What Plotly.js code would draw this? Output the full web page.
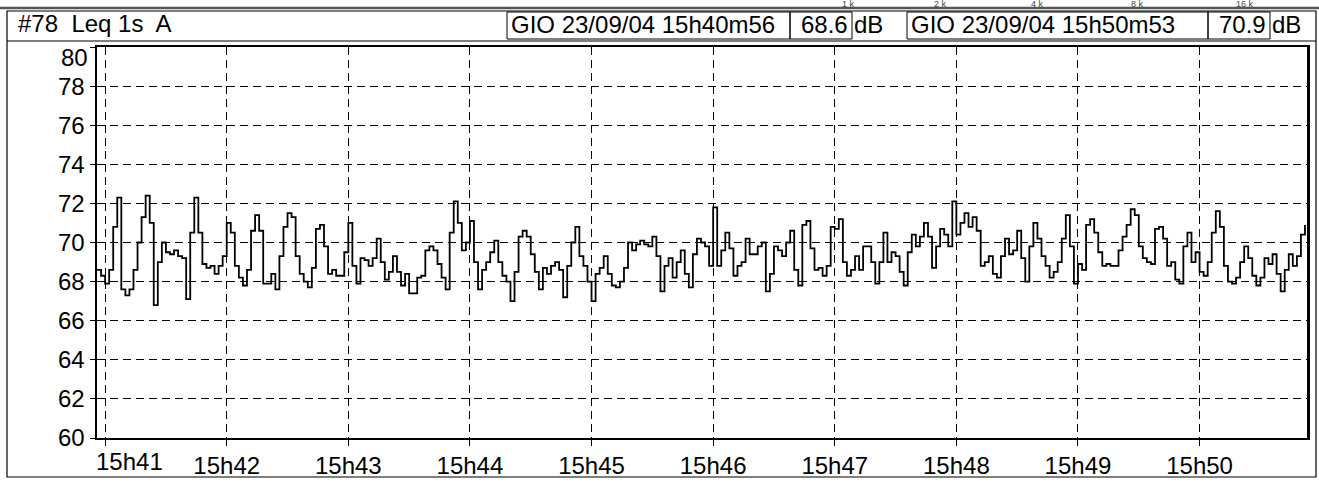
<!DOCTYPE html>
<html>
<head>
<meta charset="utf-8">
<script src="https://cdn.plot.ly/plotly-3.0.1.min.js"></script>
<style>
html,body{margin:0;padding:0;background:#fff;}
#chart{width:1319px;height:496px;}
</style>
</head>
<body>
<div id="chart"></div>
<script>
// ---- data ----
const headerLabel = "#78  Leq 1s  A";
const cursorStartText = "GIO 23/09/04 15h40m56";
const cursorStartValue = "68.6";
const cursorEndText = "GIO 23/09/04 15h50m53";
const cursorEndValue = "70.9";
const bandLabels = ["1 k", "2 k", "4 k", "8 k", "16 k"];
const stepSeconds = 2;          // one reading every 2 s, starting at 15h40m56
const totalSeconds = 597;       // 15h40m56 -> 15h50m53
const tickSeconds = [4, 64, 124, 184, 244, 304, 364, 424, 484, 544];
const tickLabels = ["15h41", "15h42", "15h43", "15h44", "15h45", "15h46", "15h47", "15h48", "15h49", "15h50"];
const yTicks = [60, 62, 64, 66, 68, 70, 72, 74, 76, 78, 80];
const levels = [
 68.6, 68.3, 67.9, 68.6, 70.8, 72.3, 67.6, 67.3, 67.6, 68.6, 70.0, 71.3, 72.4, 71.0, 66.8, 69.0, 70.0, 69.5, 69.4, 69.6, 69.3, 69.2, 67.1, 70.5, 72.3, 70.5, 68.9, 68.7,
 68.8, 68.4, 68.8, 69.3, 71.0, 70.5, 68.8, 68.2, 67.8, 68.6, 70.6, 71.4, 70.6, 67.9, 67.9, 68.4, 67.6, 69.3, 70.8, 71.5, 71.3, 69.3, 68.4, 68.0, 67.7, 68.7, 70.7,
 70.9, 69.8, 68.4, 68.6, 68.3, 68.3, 69.5, 71.0, 68.8, 67.9, 69.2, 69.1, 68.8, 69.2, 70.2, 69.0, 68.1, 68.5, 69.3, 68.5, 67.8, 68.4, 67.4, 67.4, 68.2, 68.3, 69.6,
 69.8, 69.6, 68.9, 68.2, 67.6, 70.5, 72.1, 71.0, 69.6, 70.0, 71.1, 69.0, 67.6, 68.6, 69.0, 69.5, 70.1, 69.0, 68.3, 68.0, 67.0, 68.5, 70.3, 70.6, 70.3, 69.4, 68.5,
 67.6, 68.7, 68.4, 68.8, 69.0, 68.6, 67.2, 68.8, 70.0, 70.8, 69.3, 68.8, 68.0, 67.0, 68.4, 68.7, 69.3, 68.4, 67.8, 67.7, 68.0, 68.7, 70.0, 69.6, 69.9, 70.1, 69.9,
 69.8, 70.3, 69.3, 67.5, 68.8, 69.2, 68.2, 69.0, 69.6, 68.4, 67.7, 69.4, 70.2, 70.0, 69.8, 68.8, 71.8, 68.8, 69.6, 70.5, 69.7, 68.3, 68.8, 69.0, 70.2, 69.4, 69.4,
 69.8, 70.0, 67.5, 68.4, 69.8, 69.6, 69.3, 70.0, 70.6, 68.6, 67.8, 70.9, 71.1, 69.7, 68.6, 68.7, 68.3, 68.8, 70.8, 70.7, 71.2, 69.0, 68.3, 68.6, 69.3, 68.6, 69.8,
 69.8, 69.0, 67.9, 69.0, 70.5, 69.0, 69.5, 69.3, 68.5, 67.8, 69.5, 70.4, 69.8, 70.3, 71.0, 70.3, 68.7, 69.8, 70.7, 70.4, 69.8, 72.1, 70.4, 71.0, 71.5, 70.8, 71.3,
 70.6, 68.8, 69.0, 69.3, 68.4, 68.2, 69.3, 70.2, 69.4, 69.6, 70.6, 69.2, 68.0, 69.8, 71.0, 70.2, 69.3, 68.8, 68.2, 68.5, 69.0, 70.2, 71.4, 69.8, 67.9, 68.9, 68.6,
 70.9, 71.2, 70.5, 69.5, 68.8, 68.9, 68.8, 68.8, 69.6, 70.3, 70.9, 71.7, 71.4, 69.8, 69.2, 69.0, 68.9, 70.7, 70.8, 70.2, 68.8, 69.0, 68.1, 67.9, 69.8, 70.5, 69.0,
 69.5, 68.5, 68.3, 69.0, 70.5, 71.6, 70.8, 68.8, 68.0, 67.9, 68.2, 69.0, 69.8, 69.2, 68.3, 67.8, 68.2, 69.2, 68.9, 69.4, 68.4, 67.5, 68.6, 69.4, 68.8, 69.3, 70.4, 70.9
];

// ---- layout geometry (pixels of the 1319x496 page) ----
const W = 1319, H = 496;
const PL = 97, PR = 1307, PT = 47, PB = 438;
const px = v => (v - PL) / (PR - PL);
const py = v => (PB - v) / (PB - PT);
const FONT = "Liberation Sans, Arial, sans-serif";
const FS = 24;

const xs = levels.map((_, i) => i * stepSeconds);

const trace = {
  type: "scatter", mode: "lines", x: xs, y: levels,
  line: {shape: "hv", color: "#000", width: 1.8},
  hoverinfo: "skip"
};

function rect(x0, y0, x1, y1, w) {
  return {type: "rect", xref: "paper", yref: "paper", x0: px(x0), x1: px(x1), y0: py(y0), y1: py(y1),
          line: {color: "#000", width: w || 1}, fillcolor: "rgba(0,0,0,0)", layer: "above"};
}
function hline(x0, x1, y, w, c) {
  return {type: "line", xref: "paper", yref: "paper", x0: px(x0), x1: px(x1), y0: py(y), y1: py(y),
          line: {color: c || "#000", width: w || 1}, layer: "above"};
}
function txt(text, xPix, yPix, anchor, size, color) {
  return {text: text, xref: "paper", yref: "paper", x: px(xPix), y: py(yPix), xanchor: anchor || "left",
          yanchor: "middle", showarrow: false, font: {family: FONT, size: size || FS, color: color || "#000"}};
}

const shapes = [
  rect(7, 11, 1316, 477, 1.2),
  hline(7, 1316, 41, 1.2),
  hline(0, 1319, 8, 2.5, "#555"),
  rect(507, 12, 790, 39, 1),
  rect(790, 12, 852, 39, 1),
  rect(907, 12, 1208, 39, 1),
  rect(1208, 12, 1270, 39, 1)
];

const bandX = [848, 940, 1037, 1137, 1245];
const topTick = yTicks[yTicks.length - 1];
const annotations = [
  txt(headerLabel, 16, 24, "left", FS),
  txt(cursorStartText, 509, 25, "left", FS),
  txt(cursorStartValue, 850, 25, "right", FS),
  txt("dB", 852, 25, "left", FS),
  txt(cursorEndText, 909, 25, "left", FS),
  txt(cursorEndValue, 1268, 25, "right", FS),
  txt("dB", 1270, 25, "left", FS),
  txt(String(topTick), 90, 57, "right", FS),
  {text: tickLabels[0], xref: "x", yref: "paper", x: tickSeconds[0], y: py(461), xanchor: "center", yanchor: "middle",
   xshift: 24, showarrow: false, font: {family: FONT, size: FS, color: "#000"}}
].concat(bandLabels.map((t, i) => txt(t, bandX[i], 4, "center", 9, "#444")));

const layout = {
  width: W, height: H,
  margin: {l: PL, r: W - PR, t: PT, b: H - PB, pad: 0},
  paper_bgcolor: "#fff", plot_bgcolor: "#fff",
  showlegend: false,
  font: {family: FONT, size: FS, color: "#000"},
  xaxis: {
    range: [0, totalSeconds], tickmode: "array", tickvals: tickSeconds,
    ticktext: tickLabels.map((t, i) => i === 0 ? "" : t),
    showgrid: true, gridcolor: "#000", gridwidth: 1, griddash: "8px,5px",
    zeroline: false, showline: true, linecolor: "#000", linewidth: 1.6, mirror: true,
    ticks: "outside", ticklen: 6, tickcolor: "#000", tickwidth: 1,
    tickfont: {family: FONT, size: FS, color: "#000"}, fixedrange: true
  },
  yaxis: {
    range: [60, 80], tickmode: "array", tickvals: yTicks,
    ticktext: yTicks.map(v => v === topTick ? "" : String(v)),
    showgrid: true, gridcolor: "#000", gridwidth: 1, griddash: "8px,5px",
    zeroline: false, showline: true, linecolor: "#000", linewidth: 2.5, mirror: true,
    ticks: "outside", ticklen: 5, tickcolor: "#000", tickwidth: 1,
    tickfont: {family: FONT, size: FS, color: "#000"}, fixedrange: true
  },
  shapes: shapes,
  annotations: annotations
};

Plotly.newPlot("chart", [trace], layout, {staticPlot: true, displayModeBar: false});
</script>
</body>
</html>
